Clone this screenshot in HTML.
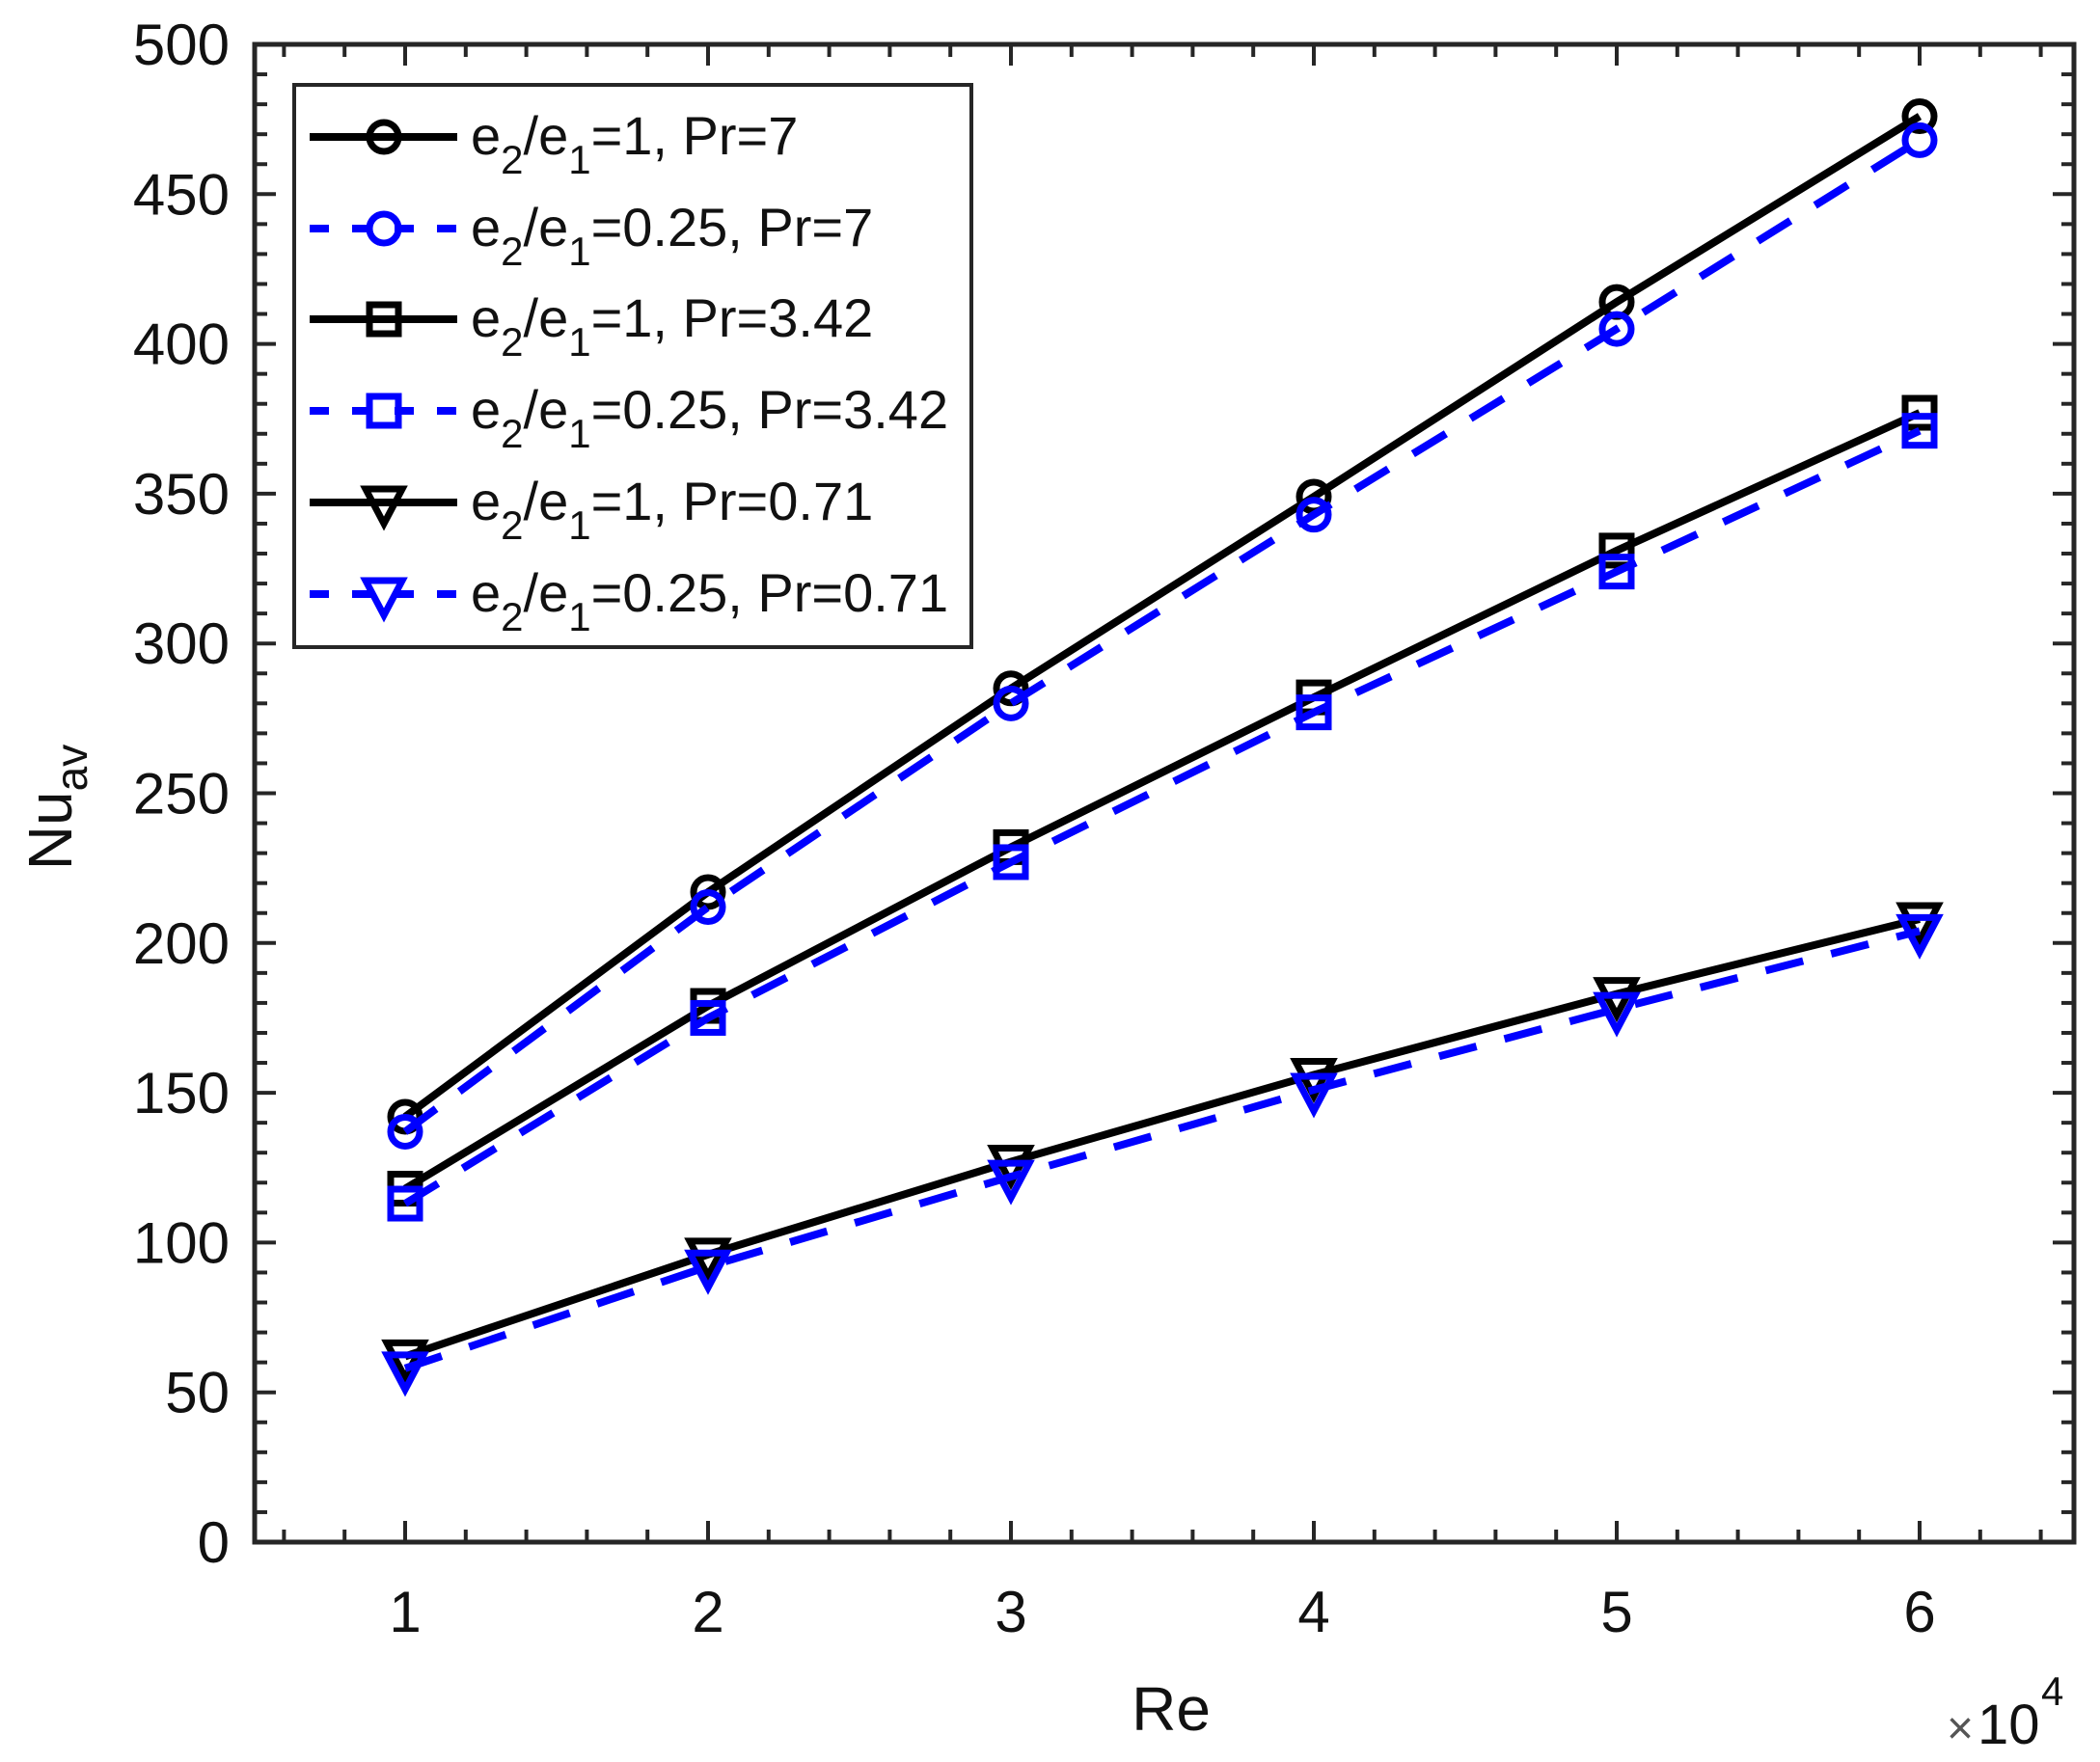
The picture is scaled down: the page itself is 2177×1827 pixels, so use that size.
<!DOCTYPE html>
<html><head><meta charset="utf-8"><style>body{margin:0;background:#fff}svg{display:block}</style></head><body>
<svg width="2177" height="1827" xmlns="http://www.w3.org/2000/svg" font-family="Liberation Sans, Arial, sans-serif">
<rect width="2177" height="1827" fill="#fff"/>
<g stroke="#262626" stroke-width="5" fill="none">
<rect x="264" y="46" width="1886" height="1553"/>
</g>
<g stroke="#262626" stroke-width="4" id="ticks"></g>
<g id="series" fill="none"></g>
<g id="labels" font-size="60" fill="#111"></g>
<text x="1214" y="1794" font-size="64" text-anchor="middle" fill="#111">Re</text>
<text x="2018" y="1808" font-size="48" fill="#555">×</text>
<text x="2050" y="1808" font-size="58" fill="#111">10</text>
<text x="2116" y="1768" font-size="42" fill="#111">4</text>
<text transform="translate(74,837) rotate(-90)" font-size="64" text-anchor="middle" fill="#111">Nu<tspan font-size="46" dy="16">av</tspan></text>
<rect x="305" y="88" width="702" height="583" fill="#fff" stroke="#262626" stroke-width="4"/>
<g id="legend" font-size="56" fill="#111">
<text x="488" y="160">e<tspan font-size="42" dy="20">2</tspan><tspan dy="-20">/e</tspan><tspan font-size="42" dy="20">1</tspan><tspan dy="-20">=1, Pr=7</tspan></text>
<text x="488" y="255">e<tspan font-size="42" dy="20">2</tspan><tspan dy="-20">/e</tspan><tspan font-size="42" dy="20">1</tspan><tspan dy="-20">=0.25, Pr=7</tspan></text>
<text x="488" y="349">e<tspan font-size="42" dy="20">2</tspan><tspan dy="-20">/e</tspan><tspan font-size="42" dy="20">1</tspan><tspan dy="-20">=1, Pr=3.42</tspan></text>
<text x="488" y="444">e<tspan font-size="42" dy="20">2</tspan><tspan dy="-20">/e</tspan><tspan font-size="42" dy="20">1</tspan><tspan dy="-20">=0.25, Pr=3.42</tspan></text>
<text x="488" y="539">e<tspan font-size="42" dy="20">2</tspan><tspan dy="-20">/e</tspan><tspan font-size="42" dy="20">1</tspan><tspan dy="-20">=1, Pr=0.71</tspan></text>
<text x="488" y="634">e<tspan font-size="42" dy="20">2</tspan><tspan dy="-20">/e</tspan><tspan font-size="42" dy="20">1</tspan><tspan dy="-20">=0.25, Pr=0.71</tspan></text>
</g>
<script>
const NS="http://www.w3.org/2000/svg";
function el(p,t,a){const e=document.createElementNS(NS,t);for(const k in a)e.setAttribute(k,a[k]);p.appendChild(e);return e;}
const X=v=>420+(v-1)*314, Y=v=>1599-v*3.106;
const tk=document.getElementById('ticks');
for(let v=0.6;v<6.5;v+=0.2){const x=X(v),big=Math.abs(v-Math.round(v))<0.01;const L=big?22:13;
el(tk,'line',{x1:x,y1:1599,x2:x,y2:1599-L});el(tk,'line',{x1:x,y1:46,x2:x,y2:46+L});}
for(let v=10;v<500;v+=10){const y=Y(v),big=v%50==0;const L=big?22:13;
el(tk,'line',{x1:264,y1:y,x2:264+L,y2:y});el(tk,'line',{x1:2150,y1:y,x2:2150-L,y2:y});}
const lb=document.getElementById('labels');
for(let i=1;i<=6;i++){const t=el(lb,'text',{x:X(i),y:1692,'text-anchor':'middle'});t.textContent=i;}
for(let v=0;v<=500;v+=50){const t=el(lb,'text',{x:238,y:Y(v)+21,'text-anchor':'end'});t.textContent=v;}
const data=[
[[142,217,285,349,414,476],'k','o'],[[137,212,280,343,405,468],'b','o'],
[[118,179,232,282,331,377],'k','s'],[[113,175,227,277,324,371],'b','s'],
[[62,96,127,156,183,208],'k','v'],[[58,92,122,151,178,204],'b','v']];
const sg=document.getElementById('series');
function marker(g,x,y,c,m){const st={stroke:c,'stroke-width':7,fill:'none'};
if(m=='o')el(g,'circle',Object.assign({cx:x,cy:y,r:15},st));
else if(m=='s')el(g,'rect',Object.assign({x:x-15,y:y-15,width:30,height:30},st));
else el(g,'polygon',Object.assign({points:`${x-19},${y-14} ${x+19},${y-14} ${x},${y+22}`},st));}
for(const [d,c,m] of [data[4],data[5],data[2],data[3],data[0],data[1]]){
const col=c=='k'?'#000':'#0000ff';
const pts=d.map((v,i)=>X(i+1)+','+Y(v)).join(' ');
const a={points:pts,stroke:col,'stroke-width':8,fill:'none'};if(c=='b'){a['stroke-dasharray']='40 30';}
el(sg,'polyline',a);d.forEach((v,i)=>marker(sg,X(i+1),Y(v),col,m));}
const lg=document.getElementById('legend');
const ys=[142,237,331,426,521,616];
data.forEach(([d,c,m],i)=>{const col=c=='k'?'#000':'#0000ff';const y=ys[i];
const a={x1:321,y1:y,x2:474,y2:y,stroke:col,'stroke-width':8};if(c=='b')a['stroke-dasharray']='20 24';
el(lg,'line',a);marker(lg,398,y,col,m);});
</script>
</svg>
</body></html>
